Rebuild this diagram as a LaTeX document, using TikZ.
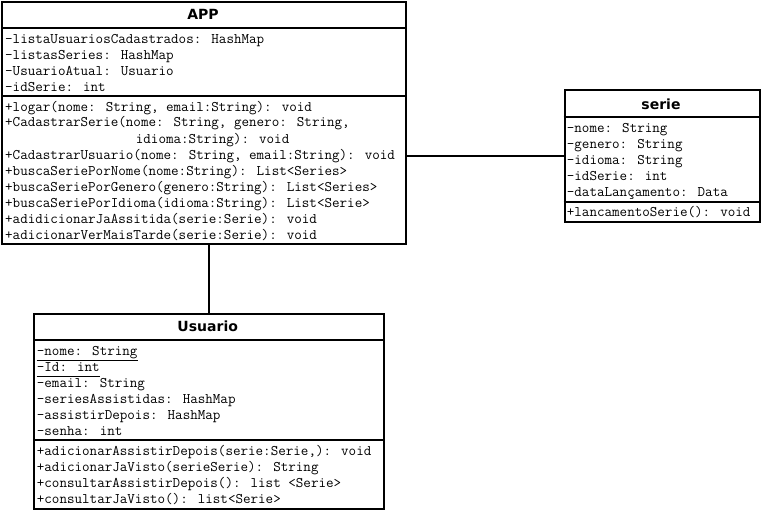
\documentclass[tikz,border=0pt]{standalone}
\usepackage{fontspec}
\newfontfamily\umltitle{DejaVu Sans}

\tikzset{
  classbox/.style={draw, line width=2pt, rectangle, anchor=north west, inner sep=0pt, fill=white},
  member/.style={anchor=base west, inner sep=0pt, font=\ttfamily\fontsize{14.65}{16}\selectfont},
  classtitle/.style={anchor=base, inner sep=0pt, font=\umltitle\bfseries\fontsize{14}{16}\selectfont},
  compartment/.style={line width=2pt},
  assoc/.style={line width=2pt},
  staticmark/.style={line width=1pt}
}

\begin{document}
\begin{tikzpicture}[x=1pt, y=-1pt]
\useasboundingbox (0,0) rectangle (761,511);

% ---------- class APP ----------
\node[classbox, minimum width=404pt, minimum height=242pt] (app) at (1,1) {};
\node[classtitle] (appT) at (203,20) {APP};
\draw[compartment] (1,28.5) -- (405,28.5);
\draw[compartment] (1,96) -- (405,96);
\node[member] (appA1) at (5,44) {-listaUsuariosCadastrados: HashMap};
\node[member] (appA2) at (5,60) {-listasSeries: HashMap};
\node[member] (appA3) at (5,76) {-UsuarioAtual: Usuario};
\node[member] (appA4) at (5,92) {-idSerie: int};
\node[member] (appM1) at (5,111) {+logar(nome: String, email:String): void};
\node[member] (appM2) at (5,127) {+CadastrarSerie(nome: String, genero: String,};
\node[member] (appM2b) at (135.7,143) {idioma:String): void};
\node[member] (appM3) at (5,159) {+CadastrarUsuario(nome: String, email:String): void};
\node[member] (appM4) at (5,175) {+buscaSeriePorNome(nome:String): List<Series>};
\node[member] (appM5) at (5,191) {+buscaSeriePorGenero(genero:String): List<Series>};
\node[member] (appM6) at (5,207) {+buscaSeriePorIdioma(idioma:String): List<Serie>};
\node[member] (appM7) at (5,223) {+adidicionarJaAssitida(serie:Serie): void};
\node[member] (appM8) at (5,239) {+adicionarVerMaisTarde(serie:Serie): void};

% ---------- class serie ----------
\node[classbox, minimum width=195pt, minimum height=131.5pt] (serie) at (563.5,89) {};
\node[classtitle] (serieT) at (661,110) {serie};
\draw[compartment] (563.5,117) -- (758.5,117);
\draw[compartment] (563.5,201.5) -- (758.5,201.5);
\node[member] (serieA1) at (566.7,132.5) {-nome: String};
\node[member] (serieA2) at (566.7,148.5) {-genero: String};
\node[member] (serieA3) at (566.7,164.5) {-idioma: String};
\node[member] (serieA4) at (566.7,180.5) {-idSerie: int};
\node[member] (serieA5) at (566.7,196.5) {-dataLançamento: Data};
\node[member] (serieM1) at (566.7,216.5) {+lancamentoSerie(): void};

% ---------- class Usuario ----------
\node[classbox, minimum width=349.5pt, minimum height=195.5pt] (usuario) at (33,312.5) {};
\node[classtitle] (usuarioT) at (207.7,331.7) {Usuario};
\draw[compartment] (33,339.5) -- (382.5,339.5);
\draw[compartment] (33,440) -- (382.5,440);
\node[member] (usuA1) at (36.7,355) {-nome: String};
\node[member] (usuA2) at (36.7,371) {-Id: int};
\node[member] (usuA3) at (36.7,387) {-email: String};
\node[member] (usuA4) at (36.7,403) {-seriesAssistidas: HashMap};
\node[member] (usuA5) at (36.7,419) {-assistirDepois: HashMap};
\node[member] (usuA6) at (36.7,435) {-senha: int};
\node[member] (usuM1) at (36.7,455) {+adicionarAssistirDepois(serie:Serie,): void};
\node[member] (usuM2) at (36.7,471) {+adicionarJaVisto(serieSerie): String};
\node[member] (usuM3) at (36.7,487) {+consultarAssistirDepois(): list <Serie>};
\node[member] (usuM4) at (36.7,503) {+consultarJaVisto(): list<Serie>};
% static members are underlined
\draw[staticmark] ([yshift=-5pt]usuA1.base west) -- ([yshift=-5pt]usuA1.base east);
\draw[staticmark] ([yshift=-5pt]usuA2.base west) -- ([yshift=-5pt]usuA2.base east);

% ---------- associations ----------
\draw[assoc] (serie.west -| app.east) -- (serie.west);
\draw[assoc] (usuario.north |- app.south) -- (usuario.north);
\end{tikzpicture}
\end{document}
